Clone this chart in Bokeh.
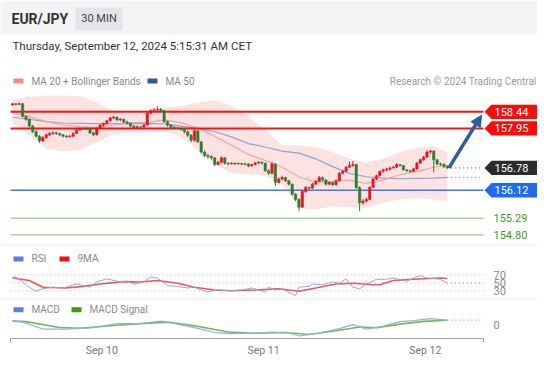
from bokeh.plotting import figure
from bokeh.models import Range1d, LinearAxis, FixedTicker, Arrow, NormalHead
from bokeh.embed import file_html
from bokeh.resources import INLINE
from bokeh.core.properties import value

# ---------------- data (30-min candles, index 0..129) ----------------
opens = [158.64,158.68,158.66,158.68,158.30,158.22,158.02,157.85,157.72,157.58,
         157.68,157.76,157.80,157.82,157.80,157.76,157.72,157.70,157.72,157.80,
         157.90,157.95,157.93,157.95,157.82,157.76,157.95,158.05,158.10,158.18,
         158.26,158.28,158.20,158.22,158.14,158.10,158.02,157.98,158.00,157.99,
         158.05,158.40,158.48,158.50,158.52,158.48,158.15,158.05,157.98,157.96,
         157.95,157.92,157.85,157.75,157.60,157.88,157.55,157.25,157.15,157.12,
         157.08,156.88,156.95,157.08,156.92,156.90,156.92,156.90,156.91,156.89,
         156.90,156.84,156.88,156.93,156.95,156.92,156.70,156.62,156.90,156.35,
         156.45,156.50,156.40,156.30,156.00,155.85,155.62,156.08,156.20,156.18,
         156.30,156.38,156.50,156.42,156.30,156.35,156.28,156.40,156.62,156.68,
         156.80,156.85,156.88,156.20,155.75,155.80,155.85,156.20,156.45,156.55,
         156.68,156.72,156.74,156.78,156.80,156.88,156.85,156.72,156.70,156.68,
         156.75,156.92,157.02,157.10,157.25,157.28,157.02,156.90,156.88,156.82]
highs = [158.70,158.70,158.72,158.70,158.34,158.24,158.06,157.90,157.75,157.72,
         157.80,157.84,157.86,157.85,157.82,157.78,157.75,157.76,157.84,157.94,
         157.98,157.97,157.98,157.96,157.85,157.98,158.08,158.12,158.20,158.29,
         158.32,158.30,158.26,158.24,158.18,158.12,158.05,158.03,158.02,158.08,
         158.44,158.52,158.55,158.60,158.56,158.50,158.18,158.08,158.02,158.00,
         157.98,157.95,157.88,157.78,157.92,157.90,157.58,157.30,157.20,157.16,
         157.10,156.98,157.12,157.10,156.95,156.95,156.94,156.94,156.93,156.93,
         156.92,156.90,156.96,156.98,156.97,156.94,156.74,156.95,156.92,156.50,
         156.55,156.52,156.43,156.32,156.04,155.88,156.12,156.24,156.23,156.34,
         156.42,156.54,156.52,156.45,156.38,156.37,156.44,156.66,156.72,156.84,
         156.97,156.98,156.90,156.24,155.86,155.90,156.24,156.48,156.58,156.70,
         156.76,156.78,156.82,156.84,156.92,156.90,156.87,156.75,156.73,156.78,
         156.96,157.06,157.14,157.30,157.32,157.30,157.05,156.94,156.92,156.86]
lows = [158.62,158.63,158.64,158.28,158.18,157.98,157.82,157.68,157.52,157.55,
        157.64,157.72,157.76,157.76,157.72,157.68,157.66,157.68,157.70,157.78,
        157.88,157.90,157.91,157.78,157.72,157.74,157.92,158.00,158.06,158.15,
        158.22,158.16,158.17,158.10,158.06,157.98,157.95,157.96,157.96,157.97,
        158.03,158.36,158.44,158.46,158.44,158.12,158.00,157.94,157.92,157.92,
        157.88,157.80,157.70,157.55,157.56,157.52,157.20,157.10,157.06,157.02,
        156.84,156.86,156.92,156.88,156.86,156.88,156.87,156.88,156.86,156.86,
        156.80,156.82,156.86,156.90,156.88,156.66,156.58,156.60,156.25,156.32,
        156.42,156.36,156.26,155.96,155.80,155.50,155.60,156.05,156.14,156.16,
        156.28,156.36,156.38,156.26,156.27,156.24,156.26,156.38,156.60,156.66,
        156.78,156.82,156.16,155.50,155.70,155.76,155.82,156.18,156.42,156.52,
        156.64,156.68,156.70,156.76,156.78,156.82,156.70,156.66,156.64,156.66,
        156.72,156.90,157.00,157.08,157.20,156.65,156.86,156.84,156.78,156.76]
closes = [158.68,158.66,158.68,158.30,158.22,158.02,157.85,157.72,157.58,157.68,
          157.76,157.80,157.82,157.80,157.76,157.72,157.70,157.72,157.80,157.90,
          157.95,157.93,157.95,157.82,157.76,157.95,158.05,158.10,158.18,158.26,
          158.28,158.20,158.22,158.14,158.10,158.02,157.98,158.00,157.99,158.05,
          158.40,158.48,158.50,158.52,158.48,158.15,158.05,157.98,157.96,157.95,
          157.92,157.85,157.75,157.60,157.88,157.55,157.25,157.15,157.12,157.08,
          156.88,156.95,157.08,156.92,156.90,156.92,156.90,156.91,156.89,156.90,
          156.84,156.88,156.93,156.95,156.92,156.70,156.62,156.90,156.35,156.45,
          156.50,156.40,156.30,156.00,155.85,155.62,156.08,156.20,156.18,156.30,
          156.38,156.50,156.42,156.30,156.35,156.28,156.40,156.62,156.68,156.80,
          156.85,156.88,156.20,155.75,155.80,155.85,156.20,156.45,156.55,156.68,
          156.72,156.74,156.78,156.80,156.88,156.85,156.72,156.70,156.68,156.75,
          156.92,157.02,157.10,157.25,157.28,157.02,156.90,156.88,156.82,156.78]

band_idx = [0,5,10,15,20,25,30,35,40,45,50,55,60,65,70,75,80,85,90,95,100,105,110,115,120,125,129]
bb_upper = [158.80,158.88,158.92,158.92,158.90,158.72,158.45,158.38,158.40,158.56,158.62,158.72,158.78,
            158.62,158.30,157.90,157.45,157.45,157.40,157.25,157.05,156.95,157.05,157.25,157.38,157.42,157.25]
bb_lower = [158.10,157.75,157.35,157.28,157.30,157.55,157.78,157.82,157.82,157.85,157.70,157.30,156.90,
            156.62,156.60,156.55,156.30,155.60,155.55,155.65,155.62,155.60,155.75,155.85,155.90,155.85,155.80]
ma20 = [158.42,158.30,158.15,158.05,158.00,157.98,158.05,158.12,158.12,158.20,158.12,157.95,157.72,
        157.45,157.18,157.00,156.80,156.52,156.36,156.38,156.42,156.32,156.42,156.58,156.68,156.80,156.86]
ma50 = [158.28,158.22,158.15,158.11,158.10,158.09,158.09,158.09,158.10,158.08,158.02,157.95,157.85,
        157.70,157.50,157.40,157.28,157.22,157.05,156.82,156.62,156.52,156.48,156.46,156.47,156.48,156.50]

rsi_idx = [0,1,3,5,7,9,12,15,19,21,23,25,28,30,32,34,36,39,41,43,44,46,49,52,54,56,58,61,62,65,
           68,71,73,75,76,78,80,83,84,85,88,89,92,95,97,99,101,103,105,108,111,113,117,119,121,123,127,129]
rsi = [64,65,52,39,29,35,39,37,47,43,39,52,60,56,52,54,47,52,65,62,56,43,41,37,39,32,27,33,31,30,
       32,37,32,27,39,32,35,22,18,39,41,47,45,52,49,60,39,35,47,59,59,62,54,62,68,62,59,49]
rsi_ma_idx = [0,5,9,16,21,26,33,38,43,49,54,60,65,72,79,85,90,96,101,107,109,113,119,127,129]
rsi_ma = [62,56,39,37,41,47,53,52,56,49,39,32,30,32,35,29,37,47,49,45,45,56,59,62,61]
rsi_levels = [70, 50, 30]

macd_idx = [0,3,9,16,24,31,38,44,49,54,60,65,72,77,82,85,91,97,101,105,110,115,119,124,129]
macd = [0.08,0.05,-0.09,-0.09,-0.06,0.02,0.02,0.07,0.01,-0.06,-0.16,-0.18,-0.17,-0.15,-0.17,-0.23,
        -0.17,-0.08,0.0,-0.09,-0.03,0.06,0.08,0.12,0.09]
sig_idx = [0,4,14,20,30,38,46,54,64,72,81,88,96,103,108,115,122,129]
signal = [0.07,0.06,-0.06,-0.075,-0.02,0.02,0.05,-0.025,-0.15,-0.175,-0.16,-0.2,-0.125,-0.05,-0.065,0.01,0.065,0.088]

day_ticks = [26.5, 74.5, 122.5]
day_labels = ["Sep 10", "Sep 11", "Sep 12"]

resistance = [158.44, 157.95]
last_price = 156.78
pivot = 156.12
supports = [155.29, 154.80]

# ---------------- layout constants (figure pixels) ----------------
W, H = 537, 359
B_BOT = 19
FR_B = H - B_BOT
X0_PX, PX_PER_BAR = 12.0, 3.37
P_REF, P_REF_Y, PX_PER_YEN = 158.44, 112.0, 34.0
RSI_REF, RSI_REF_Y, PX_PER_RSI = 70.0, 276.0, 0.4
MACD_ZERO_Y, PX_PER_MACD = 326.0, 50.0

def bar_at(px):
    return (px - X0_PX) / PX_PER_BAR

x_lo, x_hi = bar_at(0), bar_at(W)
y_lo = P_REF - (FR_B - P_REF_Y) / PX_PER_YEN
y_hi = P_REF + P_REF_Y / PX_PER_YEN
rsi_lo = RSI_REF - (FR_B - RSI_REF_Y) / PX_PER_RSI
rsi_hi = RSI_REF + RSI_REF_Y / PX_PER_RSI
macd_lo = -(FR_B - MACD_ZERO_Y) / PX_PER_MACD
macd_hi = MACD_ZERO_Y / PX_PER_MACD

FONT = value("Roboto")

p = figure(width=W, height=H, output_backend="svg", toolbar_location=None,
           x_range=Range1d(x_lo, x_hi), y_range=Range1d(y_lo, y_hi),
           x_axis_type=None, y_axis_type=None,
           min_border=0, min_border_bottom=B_BOT,
           outline_line_color=None, background_fill_color="white",
           border_fill_color="white")
p.extra_x_ranges = {"px": Range1d(0, W)}
p.extra_y_ranges = {"py": Range1d(FR_B, 0),
                    "rsi": Range1d(rsi_lo, rsi_hi),
                    "macd": Range1d(macd_lo, macd_hi)}

PX = dict(x_range_name="px", y_range_name="py")

# header band
p.quad(left=[0], right=[W], top=[0], bottom=[35], fill_color="#f3f4f6", line_color=None, **PX)
p.quad(left=[75], right=[122], top=[7], bottom=[30], fill_color="#e3e5e8", line_color=None, **PX)
p.text(x=[11], y=[18.5], text=["EUR/JPY"], text_font=FONT, text_font_size="14px",
       text_font_style="bold", text_color="#333333", text_baseline="middle", **PX)
p.text(x=[98.5], y=[18.5], text=["30 MIN"], text_font=FONT, text_font_size="11px",
       text_color="#444444", text_align="center", text_baseline="middle", **PX)
p.text(x=[12], y=[45.5], text=["Thursday, September 12, 2024 5:15:31 AM CET"], text_font=FONT,
       text_font_size="11.5px", text_color="#333333", text_baseline="middle", **PX)

# separators
p.segment(x0=[0, 0], x1=[W, W], y0=[246, 300], y1=[246, 300], line_color="#e8ebee",
          line_width=1, **PX)

# legends
def legend_item(x, y, color, label):
    p.quad(left=[x], right=[x + 10], top=[y - 2.5], bottom=[y + 2.5], fill_color=color,
           line_color=None, **PX)
    p.text(x=[x + 18], y=[y], text=[label], text_font=FONT, text_font_size="10px",
           text_color="#8a8a8a", text_baseline="middle", **PX)

legend_item(13, 81, "#f4898b", "MA 20 + Bollinger Bands")
legend_item(147, 81, "#2f5b9c", "MA 50")
p.text(x=[536], y=[81], text=["Research © 2024 Trading Central"], text_font=FONT,
       text_font_size="10px", text_color="#9a9a9a", text_align="right", text_baseline="middle", **PX)
legend_item(13, 260, "#5b7fe0", "RSI")
legend_item(59, 260, "#f01010", "9MA")
legend_item(13, 311, "#5b7fe0", "MACD")
legend_item(71, 311, "#3f9a10", "MACD Signal")

# ---------------- price panel ----------------
p.varea(x=band_idx, y1=bb_lower, y2=bb_upper, fill_color="#fde2e2", fill_alpha=1.0)
p.line(band_idx, ma50, line_color="#8da5d5", line_width=1.2)
p.line(band_idx, ma20, line_color="#f4a3a3", line_width=1.2)

for lv in resistance:
    p.segment(x0=[10], x1=[483], y0=[lv], y1=[lv], line_color="#ff1010", line_width=2,
              x_range_name="px")
p.segment(x0=[10], x1=[483], y0=[pivot], y1=[pivot], line_color="#3d7ae6", line_width=1.5,
          x_range_name="px")
for lv in supports:
    p.segment(x0=[10], x1=[483], y0=[lv], y1=[lv], line_color="#a9d7a2", line_width=1.5,
              x_range_name="px")

EXT = bar_at(483)
p.segment(x0=[len(closes) - 1], x1=[EXT], y0=[last_price], y1=[last_price],
          line_color="#444444", line_width=1, line_dash="1 3")
p.segment(x0=[band_idx[-1]], x1=[EXT], y0=[ma50[-1]], y1=[ma50[-1]],
          line_color="#5b7fe0", line_width=1, line_dash="1 3")

# candles
idx = list(range(len(closes)))
up = [c >= o for o, c in zip(opens, closes)]
cols = ["#e3161e" if u else "#2e7d32" for u in up]
tops = [max(o, c) for o, c in zip(opens, closes)]
bots = [min(o, c) for o, c in zip(opens, closes)]
p.segment(x0=idx, x1=idx, y0=lows, y1=highs, line_color=cols, line_width=1)
p.vbar(x=idx, width=0.72, top=tops, bottom=bots, fill_color=cols, line_color=cols, line_width=0.5)

# forecast arrow
p.add_layout(Arrow(end=NormalHead(size=11, fill_color="#2c5e9e", line_color="#2c5e9e"),
                   x_start=len(closes) - 0.5, y_start=last_price, x_end=bar_at(481),
                   y_end=resistance[0] - 0.1, line_color="#2c5e9e", line_width=3.5))

# callouts
H_BOX = 7.2 / PX_PER_YEN
def callout(level, color, label):
    p.patch(x=[484, 491, W, W, 491],
            y=[level, level + H_BOX, level + H_BOX, level - H_BOX, level - H_BOX],
            fill_color=color, line_color=None, x_range_name="px")
    p.text(x=[494], y=[level], text=[label], text_font=FONT, text_font_size="11px",
           text_color="white", text_baseline="middle", x_range_name="px")

for lv in resistance:
    callout(lv, "#f80d0d", f"{lv:.2f}")
callout(last_price, "#2b2b2b", f"{last_price:.2f}")
callout(pivot, "#1d6cf0", f"{pivot:.2f}")
for lv in supports:
    p.text(x=[493], y=[lv], text=[f"{lv:.2f}"], text_font=FONT, text_font_size="11px",
           text_color="#3a9d23", text_baseline="middle", x_range_name="px")

# ---------------- RSI panel ----------------
p.segment(x0=[10] * 3, x1=[483] * 3, y0=rsi_levels, y1=rsi_levels, line_color="#b5b5b5",
          line_width=1, line_dash="1 3", x_range_name="px", y_range_name="rsi")
p.line(rsi_ma_idx, rsi_ma, line_color="#f25454", line_width=1.6, y_range_name="rsi")
p.line(rsi_idx, rsi, line_color="#8aa6f0", line_width=1, y_range_name="rsi")
p.segment(x0=[rsi_idx[-1]], x1=[EXT], y0=[rsi[-1]], y1=[rsi[-1]], line_color="#8aa6f0",
          line_width=1, line_dash="1 3", y_range_name="rsi")
p.text(x=[493] * 3, y=rsi_levels, text=[str(v) for v in rsi_levels], text_font=FONT,
       text_font_size="11px", text_color="#888888", text_baseline="middle",
       x_range_name="px", y_range_name="rsi")

# ---------------- MACD panel ----------------
p.line(sig_idx, signal, line_color="#79b846", line_width=1.6, y_range_name="macd")
p.line(macd_idx, macd, line_color="#91aef2", line_width=1.2, y_range_name="macd")
p.segment(x0=[macd_idx[-1]], x1=[EXT], y0=[macd[-1]], y1=[macd[-1]], line_color="#7d9cf0",
          line_width=1, line_dash="1 3", y_range_name="macd")
p.text(x=[493], y=[0], text=["0"], text_font=FONT, text_font_size="11px", text_color="#888888",
       text_baseline="middle", x_range_name="px", y_range_name="macd")

# ---------------- time axis ----------------
ax_lo, ax_hi = bar_at(10), bar_at(483)
xaxis = LinearAxis(ticker=FixedTicker(ticks=day_ticks, minor_ticks=[ax_lo, ax_hi]),
                   major_label_overrides={t: l for t, l in zip(day_ticks, day_labels)},
                   bounds=(ax_lo - 0.01, ax_hi + 0.01),
                   axis_line_color="#a0a0a0", major_tick_out=0, major_tick_in=0,
                   minor_tick_out=4, minor_tick_in=0, minor_tick_line_color="#a0a0a0",
                   major_label_standoff=1, major_label_text_font="Roboto",
                   major_label_text_font_size="10.5px", major_label_text_color="#777777")
p.add_layout(xaxis, "below")

open("out.html", "w").write(file_html(p, INLINE))
